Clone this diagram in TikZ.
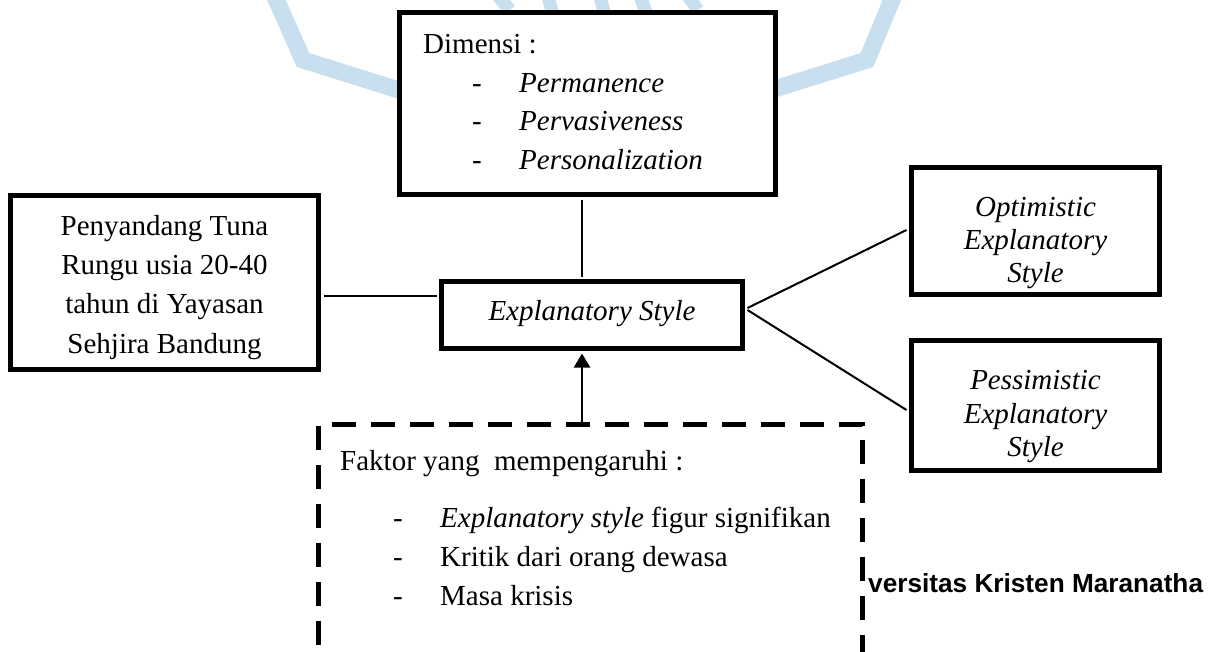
\documentclass[tikz,border=0pt]{standalone}
\usepackage{fontspec}
\setmainfont{Liberation Serif}
\newfontfamily\wmsans{Liberation Sans}
\usetikzlibrary{arrows.meta,calc}
\definecolor{wmblue}{RGB}{200,223,240}
\begin{document}
\begin{tikzpicture}[x=1pt,y=-1pt,
  box/.style={draw, line width=5pt, fill=white, inner sep=0pt},
  dbox/.style={draw, line width=5pt, dash pattern=on 24pt off 15pt, inner sep=0pt},
  txt/.style={inner sep=0pt, font=\fontsize{29}{39}\selectfont},
  conn/.style={line width=2pt},
  thinconn/.style={line width=1.6pt},
  arr/.style={line width=2.6pt, -{Triangle[length=14pt,width=16pt]}},
  wm/.style={draw=wmblue, line width=17pt, line join=miter}]
\clip (0,0) rectangle (1210,651);
\fill[white] (0,0) rectangle (1210,651);
% watermark fragments
\draw[wm] (272,-10) -- (303,60) -- (405,92);
\draw[wm] (896,-10) -- (867,60) -- (765,92);
\draw[wmblue, line width=13pt] (498,-4) -- (510,10) (548,-4) -- (552,12) (600,-4) -- (604,12)
  (640,-4) -- (646,12) (688,-4) -- (698,10);
% boxes
\node[box, minimum width=376pt, minimum height=182pt] (dim) at (587.5,103.5) {};
\node[box, minimum width=308pt, minimum height=174pt] (left) at (164.5,282.5) {};
\node[box, minimum width=301pt, minimum height=67pt] (es) at (592,315) {};
\node[box, minimum width=248pt, minimum height=127pt] (opt) at (1035.5,231) {};
\node[box, minimum width=248pt, minimum height=130pt] (pes) at (1035.5,405.5) {};
\node[dbox, minimum width=544pt, minimum height=275.5pt] (fak) at (590.5,562.25) {};
% connectors
\draw[thinconn] ($(dim.south)+(-5.5,2.5)$) -- ($(es.north)+(-10,-2.5)$);
\draw[conn] ($(left.east)+(2.5,13.5)$) -- ($(es.west)+(-2.5,-19)$);
\draw[arr] ($(fak.north)+(-8.5,0)$) -- ($(es.south)+(-10,2.5)$);
\draw[conn] ($(es.east)+(2.5,-7)$) -- ($(opt.west)+(-2.5,-1)$);
\draw[conn] ($(es.east)+(2.5,-5)$) -- ($(pes.west)+(-2.5,4.5)$);
% Dimensi text
\node[txt, anchor=base west] (dimT) at (423,53) {Dimensi :};
\foreach \t/\y [count=\i] in {Permanence/92, Pervasiveness/130.5, Personalization/169} {
  \node[txt, anchor=base west] (dd\i) at (472,\y) {-};
  \node[txt, anchor=base west] (di\i) at (519,\y) {\itshape \t};
}
% left box text
\foreach \t/\y [count=\i] in {Penyandang Tuna/235, Rungu usia 20-40/274.5, tahun di Yayasan/313.5, Sehjira Bandung/353} {
  \node[txt, anchor=base] (lt\i) at (164.5,\y) {\t};
}
% Explanatory style
\node[txt, anchor=base] (esT) at (592,320) {\itshape Explanatory Style};
% right boxes
\foreach \t/\y [count=\i] in {Optimistic/216, Explanatory/249, Style/282} {
  \node[txt, anchor=base] (ot\i) at (1035.5,\y) {\itshape \t};
}
\foreach \t/\y [count=\i] in {Pessimistic/389, Explanatory/423, Style/456} {
  \node[txt, anchor=base] (pt\i) at (1035.5,\y) {\itshape \t};
}
% Faktor text
\node[txt, anchor=base west] (fakT) at (340,470) {Faktor yang\ \ mempengaruhi :};
\node[txt, anchor=base west] (fd1) at (393,527) {-};
\node[txt, anchor=base west] (fi1) at (440,527) {\itshape Explanatory style\upshape{} figur signifikan};
\node[txt, anchor=base west] (fd2) at (393,566) {-};
\node[txt, anchor=base west] (fi2) at (440,566) {Kritik dari orang dewasa};
\node[txt, anchor=base west] (fd3) at (393,605) {-};
\node[txt, anchor=base west] (fi3) at (440,605) {Masa krisis};
% footer text
\node[anchor=base west, inner sep=0pt, font=\wmsans\bfseries\fontsize{26.2}{30}\selectfont] (foot) at (868,592) {versitas Kristen Maranatha};
\end{tikzpicture}
\end{document}
